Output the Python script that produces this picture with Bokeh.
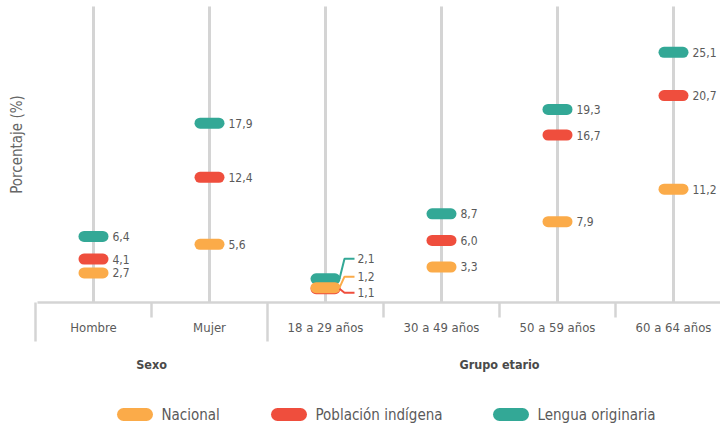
import math
from bokeh.plotting import figure
from bokeh.models import Range1d, ColumnDataSource
from bokeh.core.properties import value
from bokeh.embed import file_html
from bokeh.resources import INLINE

# ---- data ----
categories = ["Hombre", "Mujer", "18 a 29 años", "30 a 49 años", "50 a 59 años", "60 a 64 años"]
group_names = ["Sexo", "Grupo etario"]
group_sizes = [2, 4]
series_names = ["Nacional", "Población indígena", "Lengua originaria"]
nacional = [2.7, 5.6, 1.2, 3.3, 7.9, 11.2]
indigena = [4.1, 12.4, 1.1, 6.0, 16.7, 20.7]
lengua = [6.4, 17.9, 2.1, 8.7, 19.3, 25.1]
y_title = "Porcentaje (%)"

# ---- style ----
C_NAC = "#FBAB49"
C_IND = "#EF4E3D"
C_LEN = "#33A896"
GRID = "#D4D4D4"
TXT = "#5A5A5A"
FONT = value("DejaVu Sans Condensed")

# pixel layout (picture coordinates) -> data
X0, DX = 93.0, 116.0     # centre of first category, spacing
Y0, DY = 299.0, 9.85     # value 0, px per unit
W, H = 720, 428

def sx(px):
    return (px - X0) / DX

def sy(py):
    return (Y0 - py) / DY

def dx(px):
    return px / DX

def dy(px):
    return -px / DY

p = figure(width=W, height=H, output_backend="svg", toolbar_location=None,
           x_range=Range1d(sx(0), sx(W)), y_range=Range1d(sy(H), sy(0)),
           min_border=0, outline_line_color=None)
p.axis.visible = False
p.grid.visible = False
p.background_fill_color = "white"
p.border_fill_color = "white"

n = len(categories)
xs = list(range(n))

# vertical guide lines for each category
p.segment(x0=xs, x1=xs, y0=[sy(302)] * n, y1=[sy(6)] * n, line_color=GRID, line_width=3)

# baseline + bracket ticks
p.segment(x0=[sx(37)], x1=[sx(720)], y0=[sy(302)], y1=[sy(302)], line_color=GRID, line_width=2.5)
bounds = [-0.5 + k for k in range(n + 1)]
group_edges = [0]
for s in group_sizes:
    group_edges.append(group_edges[-1] + s)
tick_x, tick_y1 = [], []
for k, b in enumerate(bounds):
    tick_x.append(b)
    tick_y1.append(sy(341) if k in group_edges else sy(317))
p.segment(x0=tick_x, x1=tick_x, y0=[sy(302)] * len(tick_x), y1=tick_y1, line_color=GRID, line_width=2.5)

# pills
half = dx(9.5)
for vals, col in [(lengua, C_LEN), (indigena, C_IND), (nacional, C_NAC)]:
    src = ColumnDataSource(dict(x0=[x - half for x in xs], x1=[x + half for x in xs], y=vals))
    p.segment(x0="x0", x1="x1", y0="y", y1="y", source=src, line_color=col,
              line_width=11, line_cap="round")

def fmt(v):
    return f"{v:.1f}".replace(".", ",")

# value labels
crowded = 2  # "18 a 29 años": labels moved out with leader lines
lab_x, lab_y, lab_t = [], [], []
for vals in (nacional, indigena, lengua):
    for i, v in enumerate(vals):
        if i == crowded:
            continue
        lab_x.append(i + dx(19)); lab_y.append(v); lab_t.append(fmt(v))
p.text(x=lab_x, y=lab_y, text=lab_t, text_font=FONT, text_font_size="12px",
       text_color=TXT, text_align="left", text_baseline="middle")

offsets = [(lengua, C_LEN, -20), (nacional, C_NAC, -11), (indigena, C_IND, 4)]
for vals, col, off in offsets:
    v = vals[crowded]
    ly = v + dy(off)
    p.line(x=[crowded + dx(14), crowded + dx(19), crowded + dx(29)],
           y=[v, ly, ly], line_color=col, line_width=2)
    p.text(x=[crowded + dx(32)], y=[ly], text=[fmt(v)], text_font=FONT,
           text_font_size="12px", text_color=TXT, text_align="left", text_baseline="middle")

# category labels
p.text(x=xs, y=[sy(327)] * n, text=categories, text_font=FONT, text_font_size="13px",
       text_color=TXT, text_align="center", text_baseline="middle")

# group labels
gx = [(bounds[group_edges[k]] + bounds[group_edges[k + 1]]) / 2 for k in range(len(group_names))]
p.text(x=gx, y=[sy(364)] * len(gx), text=group_names, text_font=FONT, text_font_size="12.5px",
       text_font_style="bold", text_color="#4A4A4A", text_align="center", text_baseline="middle")

# y title
p.text(x=[sx(16.5)], y=[sy(144)], text=[y_title], text_font=FONT, text_font_size="15px",
       text_color="#666666", text_align="center", text_baseline="middle", angle=math.pi / 2)

# legend
leg_pill_px = [134.5, 288.5, 510.5]
leg_cols = [C_NAC, C_IND, C_LEN]
leg_y = sy(414)
for cx, col, name in zip(leg_pill_px, leg_cols, series_names):
    p.segment(x0=[sx(cx - 11.5)], x1=[sx(cx + 11.5)], y0=[leg_y], y1=[leg_y],
              line_color=col, line_width=13, line_cap="round")
    p.text(x=[sx(cx + 26.5)], y=[leg_y], text=[name], text_font=FONT, text_font_size="15px",
           text_color=TXT, text_align="left", text_baseline="middle")

open("out.html", "w").write(file_html(p, INLINE))
